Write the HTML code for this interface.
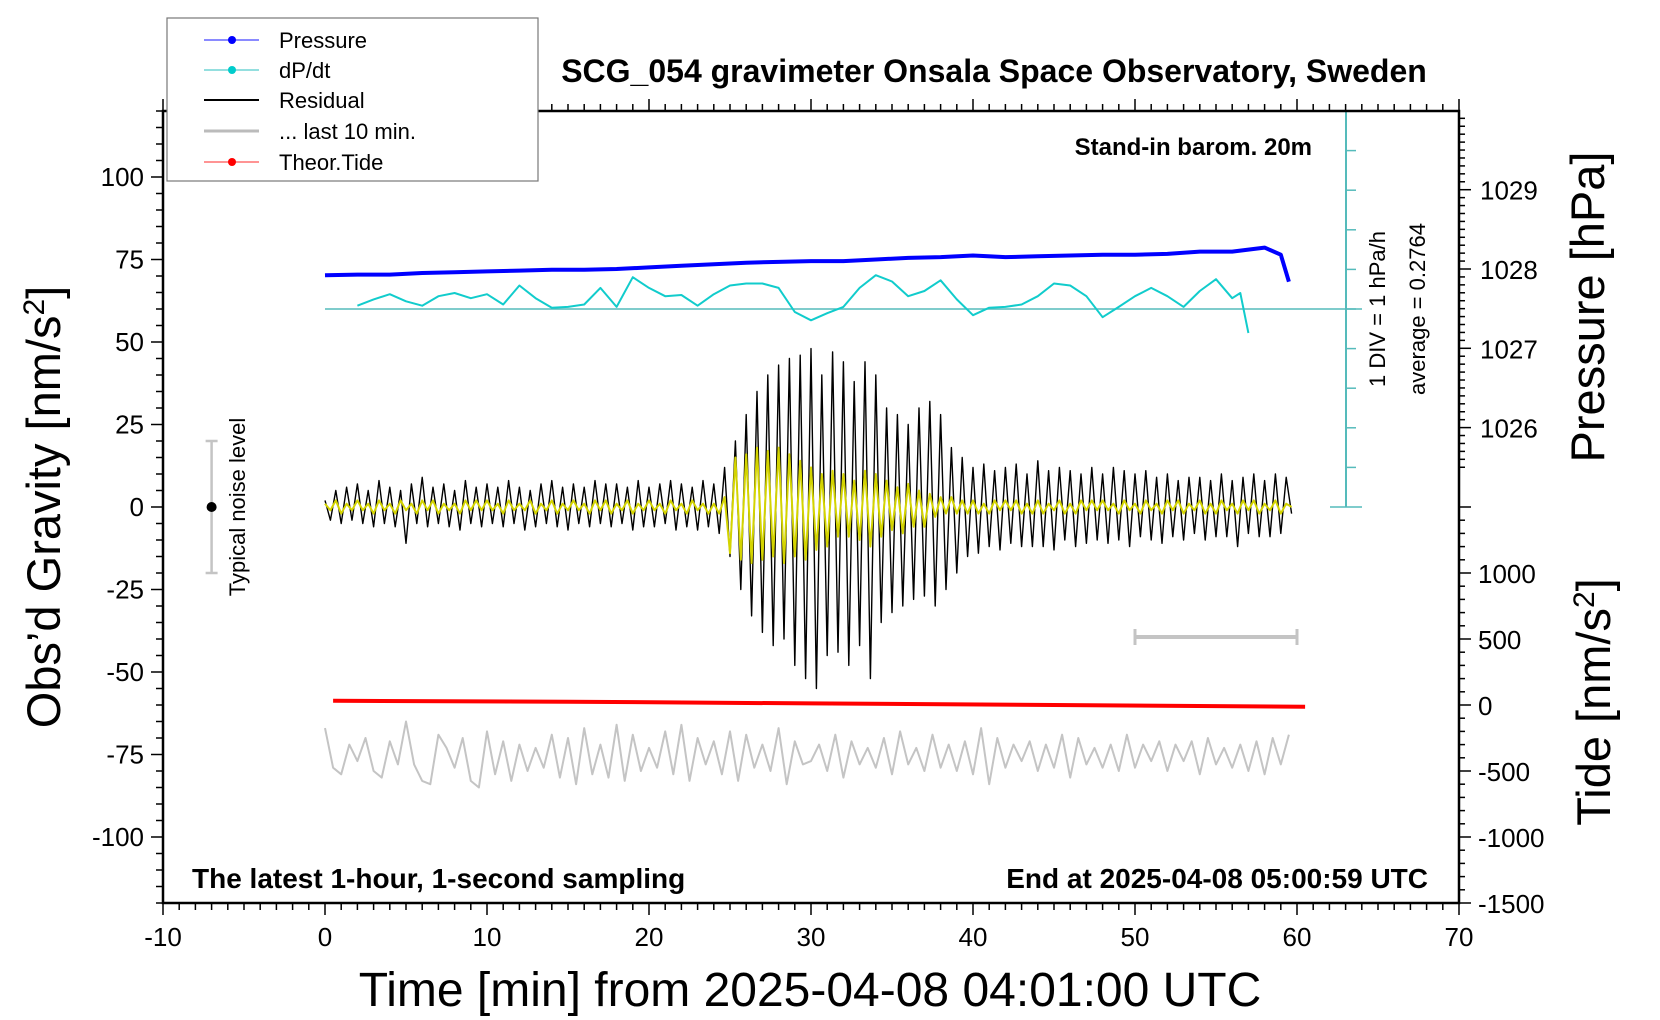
<!DOCTYPE html>
<html><head><meta charset="utf-8"><title>SCG_054 gravimeter</title>
<style>
html,body{margin:0;padding:0;background:#fff;}
svg{display:block;font-family:"Liberation Sans",Arial,sans-serif;}
</style></head>
<body>
<svg id="chart" width="1660" height="1020" viewBox="0 0 1660 1020" xmlns="http://www.w3.org/2000/svg">
<rect x="0" y="0" width="1660" height="1020" fill="#fff"/>
<g id="ticks"></g>
<g id="series"></g>
<rect x="163" y="111" width="1296" height="792" fill="none" stroke="#000" stroke-width="2.5"/>
<text x="994" y="82" font-size="32" font-weight="bold" text-anchor="middle">SCG_054 gravimeter Onsala Space Observatory, Sweden</text>
<text x="1312" y="155" font-size="24" font-weight="bold" text-anchor="end">Stand-in barom. 20m</text>
<text x="192" y="888" font-size="28" font-weight="bold">The latest 1-hour, 1-second sampling</text>
<text x="1428" y="888" font-size="28" font-weight="bold" text-anchor="end">End at 2025-04-08 05:00:59 UTC</text>
<text x="810" y="1006" font-size="48" text-anchor="middle">Time [min] from 2025-04-08 04:01:00 UTC</text>
<text transform="translate(60,507) rotate(-90)" font-size="47" text-anchor="middle">Obs’d Gravity [nm/s<tspan font-size="30" dy="-16">2</tspan><tspan dy="16">]</tspan></text>
<text transform="translate(1604,307) rotate(-90)" font-size="47" text-anchor="middle">Pressure [hPa]</text>
<text transform="translate(1610,702) rotate(-90)" font-size="47" text-anchor="middle">Tide [nm/s<tspan font-size="30" dy="-16">2</tspan><tspan dy="16">]</tspan></text>
<text transform="translate(1385,309) rotate(-90)" font-size="22" text-anchor="middle">1 DIV = 1 hPa/h</text>
<text transform="translate(1425,309) rotate(-90)" font-size="22" text-anchor="middle">average = 0.2764</text>
<text transform="translate(245,507) rotate(-90)" font-size="22" text-anchor="middle">Typical noise level</text>
<g>
<rect x="167" y="18" width="371" height="163" fill="#fff" stroke="#777" stroke-width="1.2"/>
<line x1="204" y1="40" x2="259" y2="40" stroke="#44f" stroke-width="1.2"/><circle cx="232" cy="40" r="4" fill="#00f"/>
<text x="279" y="48" font-size="22">Pressure</text>
<line x1="204" y1="70" x2="259" y2="70" stroke="#5cc" stroke-width="1.2"/><circle cx="232" cy="70" r="4" fill="#0cc"/>
<text x="279" y="78" font-size="22">dP/dt</text>
<line x1="204" y1="100" x2="259" y2="100" stroke="#000" stroke-width="2"/>
<text x="279" y="108" font-size="22">Residual</text>
<line x1="204" y1="131" x2="259" y2="131" stroke="#bbb" stroke-width="3"/>
<text x="279" y="139" font-size="22">... last 10 min.</text>
<line x1="204" y1="162" x2="259" y2="162" stroke="#f55" stroke-width="1.2"/><circle cx="232" cy="162" r="4" fill="#f00"/>
<text x="279" y="170" font-size="22">Theor.Tide</text>
</g>
</svg>
<script>
// ---- data ----
const residual = [
2,-4,5,-5,6,-4, 7,-5,5,-6,8,-5, 6,-6,5,-11,7,-5, 9,-6,6,-5,7,-6, 5,-7,8,-5,6,-6,
7,-5,6,-6,8,-5, 6,-7,5,-6,7,-5, 8,-6,6,-7,7,-5, 6,-6,8,-5,7,-6, 7,-5,6,-7,8,-6,
6,-6,7,-5,8,-7, 7,-6,6,-7,8,-6, 7,-8,12,-15,20,-25, 28,-33,35,-38,40,-42, 43,-40,45,-48,46,-52,
48,-55,40,-45,47,-44, 44,-48,38,-42,44,-52, 40,-35,30,-32,28,-30, 25,-28,30,-27,32,-30, 28,-25,18,-20,15,-15,
12,-14,13,-12,11,-13, 12,-11,13,-12,10,-12, 14,-12,11,-13,12,-10, 11,-12,10,-11,12,-10, 10,-11,12,-10,11,-12,
10,-9,11,-10,9,-11, 10,-9,8,-10,9,-8, 9,-10,8,-9,10,-9, 8,-12,9,-8,10,-9, 8,-9,10,-8,9,-2];
const filtered = [
1,-1,2,-2,1,-1, 2,-1,1,-2,2,-1, 1,-2,2,-1,1,-2, 2,-1,2,-2,1,-1, 1,-2,2,-1,2,-1,
2,-1,1,-2,2,-1, 1,-1,2,-2,1,-1, 2,-2,1,-1,2,-1, 1,-2,2,-1,2,-2, 1,-1,2,-2,1,-1,
2,-1,1,-2,2,-1, 1,-2,2,-1,1,-2, 1,-2,3,-14,15,-16, 16,-17,18,-16,17,-15, 18,-17,16,-15,14,-16,
12,-13,10,-12,11,-9, 10,-9,8,-10,11,-12, 10,-9,8,-7,6,-8, 7,-6,5,-6,4,-3, 3,-2,3,-2,2,-2,
2,-2,1,-2,2,-1, 2,-1,2,-2,1,-2, 2,-2,1,-1,2,-2, 1,-2,2,-1,2,-1, 2,-1,1,-2,2,-1,
1,-2,2,-1,1,-2, 2,-1,2,-2,1,-1, 2,-2,1,-2,2,-1, 1,-2,2,-1,2,-2, 1,-1,2,-2,1,0];
const lastTen = [
8,-4,-6,3,-2,5,-5,-7,4,-3,10,-3,-8,-9,6,2,-4,5,-8,-10,
7,-6,4,-8,3,-5,2,-4,6,-7,5,-9,8,-6,3,-7,9,-8,6,-5,
2,-4,7,-6,9,-8,5,-3,4,-6,7,-8,6,-4,3,-5,8,-9,4,-3,
-2,3,-5,6,-7,4,-3,2,-4,5,-6,7,-3,2,-5,6,-4,3,-5,4,
-6,8,-9,5,-4,3,-2,4,-5,3,-4,6,-7,5,-3,2,-4,3,-5,6,
-4,3,-2,4,-5,3,-2,4,-6,5,-3,2,-4,3,-5,4,-6,5,-3,6];
const pressT = [0,2,4,6,8,10,12,14,16,18,20,22,24,26,28,30,32,34,36,38,40,42,44,46,48,50,52,54,56,58,59,59.5];
const pressV = [1027.92,1027.93,1027.93,1027.95,1027.96,1027.97,1027.98,1027.99,1027.99,1028.0,1028.02,1028.04,1028.06,1028.08,1028.09,1028.1,1028.1,1028.12,1028.14,1028.15,1028.17,1028.15,1028.16,1028.17,1028.18,1028.18,1028.19,1028.22,1028.22,1028.27,1028.18,1027.84];
const dpT = [2,3,4,5,6,7,8,9,10,11,12,13,14,15,16,17,18,19,20,21,22,23,24,25,26,27,28,29,30,31,32,33,34,35,36,37,38,39,40,41,42,43,44,45,46,47,48,49,50,51,52,53,54,55,56,56.5,57];
const dpV = [0.36,0.52,0.65,0.47,0.36,0.60,0.68,0.55,0.65,0.39,0.87,0.55,0.31,0.33,0.39,0.81,0.33,1.08,0.81,0.60,0.63,0.36,0.65,0.87,0.92,0.92,0.81,0.20,-0.01,0.17,0.33,0.81,1.13,0.97,0.60,0.73,1.00,0.52,0.12,0.31,0.33,0.39,0.60,0.92,0.87,0.60,0.07,0.33,0.60,0.81,0.60,0.33,0.73,1.03,0.55,0.68,-0.33];
const dpAverage = 0.2764;
const tideT = [0.5,15,30,45,60.5];
const tideV = [32,25,12,0,-14];
const xTicks = [-10,0,10,20,30,40,50,60,70];
const yTicks = [-100,-75,-50,-25,0,25,50,75,100];
const pTicks = [1026,1027,1028,1029];
const tideTicks = [-1500,-1000,-500,0,500,1000];

// ---- axes ----
const X = t => 325 + t*16.2;
const Y = g => 507 - g*3.3;
const P = p => 269 - (p-1028)*79.3;
const T = v => 705 - v*0.132;
const D = v => 309 - (v-dpAverage)*39.6;
const NS='http://www.w3.org/2000/svg';
function mk(tag, parent){const e=document.createElementNS(NS,tag);parent.appendChild(e);return e;}
const ticks=document.getElementById('ticks'), series=document.getElementById('series'), svg=document.getElementById('chart');
function line(p,x1,y1,x2,y2,c,w){const l=mk('line',p);l.setAttribute('x1',x1);l.setAttribute('y1',y1);l.setAttribute('x2',x2);l.setAttribute('y2',y2);l.setAttribute('stroke',c);l.setAttribute('stroke-width',w);return l;}
function txt(s,x,y,size,anchor){const t=mk('text',svg);t.textContent=s;t.setAttribute('x',x);t.setAttribute('y',y);t.setAttribute('font-size',size);t.setAttribute('text-anchor',anchor);return t;}

for(let m=-10;m<=70;m++){const big=m%10===0;const x=X(m);
 line(ticks,x,903,x,903+(big?12:7),'#000',1.5);line(ticks,x,111,x,111-(big?12:7),'#000',1.5);}
xTicks.forEach(v=>{const t=txt(String(v),X(v),946,26,'middle');
 
 });
for(let g=-120;g<=120;g+=5){const big=g%25===0;line(ticks,163,Y(g),163-(big?12:7),Y(g),'#000',1.5);}
yTicks.forEach(v=>{const t=txt(String(v),144,Y(v)+9,26,'end');
 
 });
for(let p=1025.5;p<=1030.0001;p+=0.1){const y=P(p);if(y<111||y>507)continue;const big=Math.abs(p-Math.round(p))<0.01;line(ticks,1459,y,1459+(big?12:6),y,'#000',1.5);}
pTicks.forEach(v=>{const t=txt(String(v),1480,P(v)+10,26,'start');
 
 });
for(let v=-1500;v<=1500;v+=100){const big=v%500===0;line(ticks,1459,T(v),1459+(big?12:6),T(v),'#000',1.5);}
tideTicks.forEach(v=>{const t=txt(String(v),1478,T(v)+10,26,'start');
 
 });

// dP/dt scale
const sc=line(series,1346,111,1346,507,'#5bb',2);


for(let i=0;i<=10;i++){const y=111+i*39.6;const end=(i===0||i===10);line(series,end?1330:1346,y,end?1362:1356,y,'#5bb',1.5);}
const base=line(series,X(0),D(dpAverage),1362,D(dpAverage),'#5bb',1.5);



function poly(xs,ys,color,w,name){const p=mk('polyline',series);p.setAttribute('points',xs.map((x,i)=>x.toFixed(1)+','+ys[i].toFixed(1)).join(' '));p.setAttribute('fill','none');p.setAttribute('stroke',color);p.setAttribute('stroke-width',w);p.setAttribute('stroke-linejoin','round');
 
 return p;}

const stepR=60/residual.length, stepF=60/filtered.length, stepL=60/lastTen.length;
poly(lastTen.map((v,i)=>X(i*stepL)),lastTen.map(v=>Y(-75+v)),'#c4c4c4',2,'last-10-min-line');
poly(residual.map((v,i)=>X(i*stepR)),residual.map(v=>Y(v)),'#000',1.4,'residual-line');
poly(filtered.map((v,i)=>X(i*stepF)),filtered.map(v=>Y(v)),'#d4d400',2,'filtered-residual-line');
poly(pressT.map(X),pressV.map(P),'#00f',4,'pressure-line');
poly(dpT.map(X),dpV.map(D),'#1cc',2,'dpdt-line');
poly(tideT.map(X),tideV.map(T),'#f00',4,'tide-line');

// noise bar and 10-min scale bar
const nb=line(series,X(-7),Y(20),X(-7),Y(-20),'#c4c4c4',2.5);


line(series,X(-7)-6,Y(20),X(-7)+6,Y(20),'#c4c4c4',2.5);line(series,X(-7)-6,Y(-20),X(-7)+6,Y(-20),'#c4c4c4',2.5);
const nd=mk('circle',series);nd.setAttribute('cx',X(-7));nd.setAttribute('cy',Y(0));nd.setAttribute('r',5);nd.setAttribute('fill','#000');


const tb=line(series,X(50),637,X(60),637,'#c4c4c4',4);


line(series,X(50),629,X(50),645,'#c4c4c4',3);line(series,X(60),629,X(60),645,'#c4c4c4',3);
</script>
</body></html>
